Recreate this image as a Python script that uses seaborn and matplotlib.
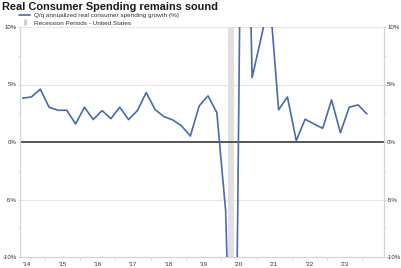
import numpy as np
import pandas as pd
import matplotlib
matplotlib.use("Agg")
import matplotlib.pyplot as plt
from matplotlib.lines import Line2D
import seaborn as sns

# ---- data ----
title = "Real Consumer Spending remains sound"
series_label = "Q/q annualized real consumer spending growth (%)"
recession_label = "Recession Periods - United States"

# quarterly, 2014Q2 .. 2024Q1 (plotted at mid-quarter)
first_year, first_quarter = 2014, 2
growth = [3.81, 3.92, 4.59,
          3.02, 2.76, 2.76, 1.57,
          3.02, 1.95, 2.73, 2.03,
          3.02, 1.95, 2.73, 4.30,
          2.82, 2.21, 1.92, 1.40,
          0.52, 3.14, 4.01, 2.56,
          -6.0, -33.4, 41.4, 5.6,
          9.0, 12.5, 2.8, 3.92,
          0.12, 1.98, 1.57, 1.19,
          3.66, 0.81, 3.02, 3.23,
          2.44]
recession_start, recession_end = 2020.19, 2020.37  # decimal years
year_labels = ["'14", "'15", "'16", "'17", "'18", "'19", "'20", "'21", "'22", "'23"]
label_years = list(range(2014, 2024))
y_ticks = [-10, -5, 0, 5, 10]
y_tick_labels = ["-10%", "-5%", "0%", "5%", "10%"]

# decimal-year position of each quarter (mid-quarter)
q_index = np.arange(len(growth)) + (first_quarter - 1)
x_years = first_year + q_index / 4.0 + 0.125
df = pd.DataFrame({"year": x_years, "growth": growth})

# ---- style ----
sns.set_style("white")
plt.rcParams["font.family"] = ["Liberation Sans", "DejaVu Sans"]

W, H = 402, 268
fig = plt.figure(figsize=(W / 100, H / 100), dpi=100)
ax = fig.add_axes([20 / W, 1 - 257 / H, (384 - 20) / W, (257 - 27) / H])

grid_c = "#e6e6e6"
spine_c = "#d4d4d4"
text_c = "#333333"
line_c = "#4a6aab"

ax.axvspan(recession_start, recession_end, color="#e0e0e0", lw=0, zorder=1)
for v in [5, 10, -5]:
    ax.axhline(v, color=grid_c, lw=0.8, zorder=0.5)
ax.axhline(0, color="#555555", lw=1.4, zorder=2)

sns.lineplot(data=df, x="year", y="growth", ax=ax, color=line_c, lw=1.2,
             zorder=3, legend=False)

ax.set_ylim(-10, 10)
ax.set_xlim(2014.30, 2024.61)
ax.set_xlabel("")
ax.set_ylabel("")

# y axis both sides
ax.set_yticks(y_ticks)
ax.set_yticklabels(y_tick_labels)
ax.set_yticks([-7.5, -2.5, 2.5, 7.5], minor=True)
ax.tick_params(axis="y", which="both", left=True, right=True, labelleft=True,
               labelright=True, length=1.5, width=0.6, color=spine_c,
               labelsize=4.4, labelcolor=text_c, pad=0.8)

# x axis: year boundary ticks, labels at mid-year
ax.set_xticks(list(range(2015, 2025)))
ax.set_xticklabels([])
ax.set_xticks([y + 0.5 for y in label_years], minor=True)
ax.set_xticklabels(year_labels, minor=True)
ax.tick_params(axis="x", which="major", length=2, width=0.6, color=spine_c,
               bottom=True)
ax.tick_params(axis="x", which="minor", length=0, labelsize=4.5,
               labelcolor=text_c, pad=3.5)

for s in ["left", "right", "bottom"]:
    ax.spines[s].set_visible(True)
    ax.spines[s].set_color(spine_c)
    ax.spines[s].set_linewidth(0.9)
ax.spines["top"].set_visible(False)

fig.text(2 / W, 1 - 7 / H, title, fontsize=7.9, fontweight="bold",
         color="#1a1a1a", va="center", ha="left")

handles = [Line2D([0], [0], color=line_c, lw=1.2),
           Line2D([0], [0], color="#c8c8c8", marker="|", linestyle="none",
                  markersize=5, markeredgewidth=1.8)]
fig.legend(handles, [series_label, recession_label], loc="upper left",
           bbox_to_anchor=(19 / W, 1 - 12.5 / H), frameon=False, fontsize=4.6,
           borderpad=0, borderaxespad=0, handlelength=1.8, handletextpad=0.6,
           labelspacing=0.35, labelcolor=text_c)

fig.savefig("out.png", dpi=100)
